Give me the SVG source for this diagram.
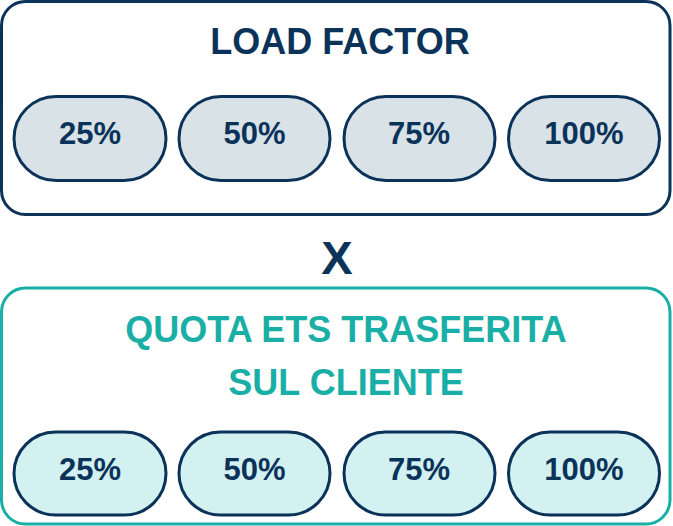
<svg xmlns="http://www.w3.org/2000/svg" width="673" height="526" viewBox="0 0 673 526">
<style>
.box{fill:#ffffff;stroke-width:3}
.navy{stroke:#0b335a}
.teal{stroke:#1aafa6}
.pill{stroke:#0b335a;stroke-width:3}
.pt{fill:#d9e2e6}
.pb{fill:#d3f1f0}
text{font-family:"Liberation Sans",Arial,sans-serif;font-weight:700;text-anchor:middle}
.h{font-size:36px}
.v{font-size:31px;fill:#0b335a}
</style>
<g id="load-factor">
<rect class="box navy" x="1.5" y="1.5" width="668.5" height="213" rx="24"/>
<text class="h" x="340" y="54" fill="#0b335a">LOAD FACTOR</text>
</g>
<g id="lf-25"><rect class="pill pt" x="14" y="96.5" width="152" height="84" rx="42"/><text class="v" x="90" y="144">25%</text></g>
<g id="lf-50"><rect class="pill pt" x="179" y="96.5" width="151" height="84" rx="42"/><text class="v" x="254.5" y="144">50%</text></g>
<g id="lf-75"><rect class="pill pt" x="344" y="96.5" width="151" height="84" rx="42"/><text class="v" x="419" y="144">75%</text></g>
<g id="lf-100"><rect class="pill pt" x="508.5" y="96.5" width="151" height="84" rx="42"/><text class="v" x="584" y="144">100%</text></g>
<g id="times"><text x="337" y="274" font-size="47" fill="#0b335a">X</text></g>
<g id="quota-ets">
<rect class="box teal" x="1.5" y="288" width="668.5" height="236" rx="24"/>
<text class="h" x="346" y="342" fill="#1aafa6">QUOTA ETS TRASFERITA</text>
<text class="h" x="346" y="395" fill="#1aafa6">SUL CLIENTE</text>
</g>
<g id="q-25"><rect class="pill pb" x="14" y="432" width="152" height="83" rx="41.5"/><text class="v" x="90" y="480">25%</text></g>
<g id="q-50"><rect class="pill pb" x="179" y="432" width="151" height="83" rx="41.5"/><text class="v" x="254.5" y="480">50%</text></g>
<g id="q-75"><rect class="pill pb" x="344" y="432" width="151" height="83" rx="41.5"/><text class="v" x="419" y="480">75%</text></g>
<g id="q-100"><rect class="pill pb" x="508.5" y="432" width="151" height="83" rx="41.5"/><text class="v" x="584" y="480">100%</text></g>
<g id="connectors"></g>
</svg>
